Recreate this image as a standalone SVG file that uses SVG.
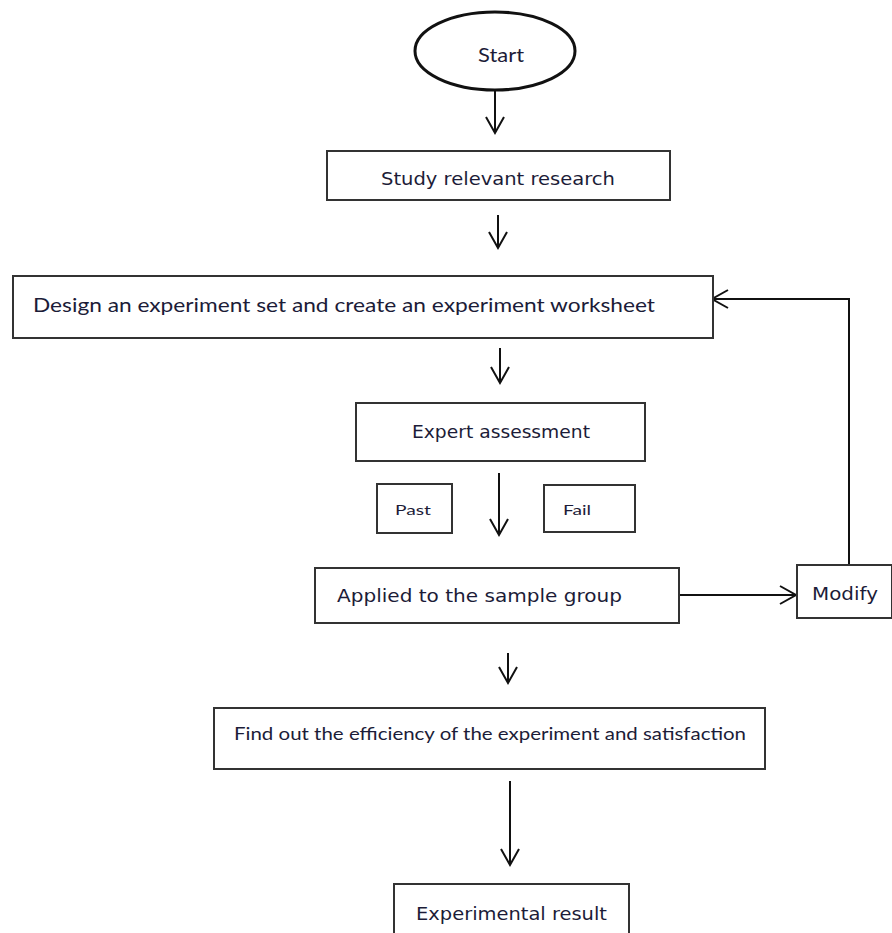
<svg xmlns="http://www.w3.org/2000/svg" width="892" height="933" viewBox="0 0 892 933">
<defs>
<marker id="arr" markerUnits="userSpaceOnUse" markerWidth="20" markerHeight="22" refX="17" refY="10" orient="auto">
<path d="M1,1 L17,10 L1,19" fill="none" stroke="#111" stroke-width="2"/>
</marker>
</defs>
<style>
.box{fill:#fff;stroke:#333;stroke-width:2}
.ln{fill:none;stroke:#111;stroke-width:2}
.t1{font-family:"Lato","Open Sans",sans-serif;fill:#1c1c38}
.t2{font-family:"DejaVu Sans","Verdana",sans-serif;fill:#1c1c38}
</style>
<rect width="892" height="933" fill="#fff"/>
<g id="connectors">
<line class="ln" x1="495" y1="90" x2="495" y2="133" marker-end="url(#arr)"/>
<line class="ln" x1="498" y1="215" x2="498" y2="248" marker-end="url(#arr)"/>
<line class="ln" x1="500" y1="348" x2="500" y2="383" marker-end="url(#arr)"/>
<line class="ln" x1="499" y1="473" x2="499" y2="535" marker-end="url(#arr)"/>
<line class="ln" x1="679" y1="595" x2="796" y2="595" marker-end="url(#arr)"/>
<polyline class="ln" points="849,565 849,299 712,299" marker-end="url(#arr)"/>
<line class="ln" x1="508" y1="653" x2="508" y2="683" marker-end="url(#arr)"/>
<line class="ln" x1="510" y1="781" x2="510" y2="865" marker-end="url(#arr)"/>
</g>
<g id="start">
<ellipse cx="495" cy="51" rx="80" ry="39" fill="#fff" stroke="#111" stroke-width="3"/>
<text class="t1" x="478" y="62" font-size="19" textLength="46" lengthAdjust="spacingAndGlyphs">Start</text>
</g>
<g id="study">
<rect class="box" x="327" y="151" width="343" height="49"/>
<text class="t2" x="381" y="185" font-size="17" textLength="234" lengthAdjust="spacingAndGlyphs">Study relevant research</text>
</g>
<g id="design">
<rect class="box" x="13" y="276" width="700" height="62"/>
<text class="t1" x="33" y="312" font-size="20" textLength="622" lengthAdjust="spacingAndGlyphs">Design an experiment set and create an experiment worksheet</text>
</g>
<g id="expert">
<rect class="box" x="356" y="403" width="289" height="58"/>
<text class="t2" x="412" y="438" font-size="17" textLength="178" lengthAdjust="spacingAndGlyphs">Expert assessment</text>
</g>
<g id="past">
<rect class="box" x="377" y="484" width="75" height="49"/>
<text class="t1" x="395" y="515" font-size="14" textLength="36" lengthAdjust="spacingAndGlyphs">Past</text>
</g>
<g id="fail">
<rect class="box" x="544" y="485" width="91" height="47"/>
<text class="t1" x="563" y="515" font-size="14" textLength="28" lengthAdjust="spacingAndGlyphs">Fail</text>
</g>
<g id="applied">
<rect class="box" x="315" y="568" width="364" height="55"/>
<text class="t2" x="337" y="602" font-size="17" textLength="285" lengthAdjust="spacingAndGlyphs">Applied to the sample group</text>
</g>
<g id="modify">
<rect class="box" x="797" y="565" width="95" height="53"/>
<text class="t2" x="812" y="600" font-size="17" textLength="66" lengthAdjust="spacingAndGlyphs">Modify</text>
</g>
<g id="find">
<rect class="box" x="214" y="708" width="551" height="61"/>
<text class="t1" x="234" y="740" font-size="17" textLength="512" lengthAdjust="spacingAndGlyphs">Find out the efficiency of the experiment and satisfaction</text>
</g>
<g id="result">
<rect class="box" x="394" y="884" width="235" height="60"/>
<text class="t2" x="416" y="920" font-size="17" textLength="191" lengthAdjust="spacingAndGlyphs">Experimental result</text>
</g>
</svg>
